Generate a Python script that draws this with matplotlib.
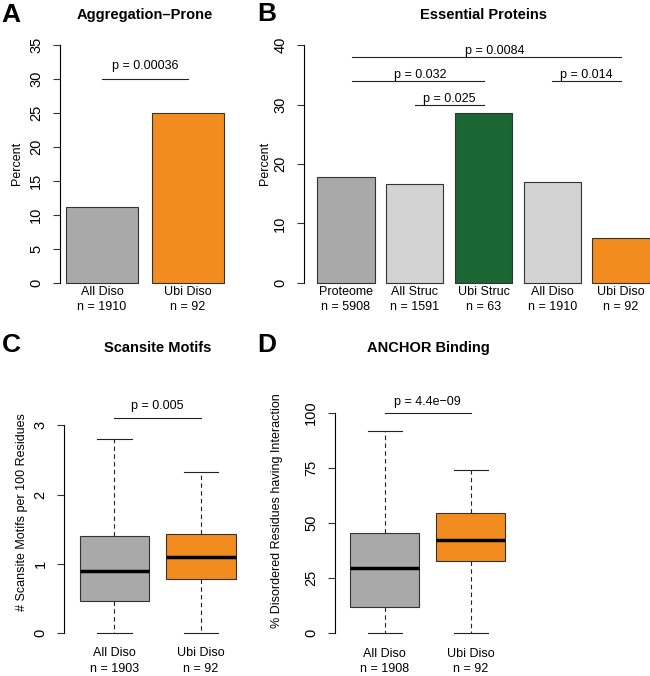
import matplotlib
matplotlib.use("Agg")
import matplotlib.pyplot as plt

plt.rcParams['font.family'] = ['Liberation Sans', 'DejaVu Sans']

W, H = 650, 676

# --- data ---
agg_labels = ['All Diso\nn = 1910', 'Ubi Diso\nn = 92']
agg_values = [11.2, 25.0]
agg_colors = ['#a9a9a9', '#f28c1f']

ess_labels = ['Proteome\nn = 5908', 'All Struc\nn = 1591', 'Ubi Struc\nn = 63',
              'All Diso\nn = 1910', 'Ubi Diso\nn = 92']
ess_values = [17.8, 16.6, 28.5, 17.0, 7.6]
ess_colors = ['#a9a9a9', '#d3d3d3', '#1a6634', '#d3d3d3', '#f28c1f']
# significance lines for B (R barplot coordinates)
ess_p_x0 = [0.8, 0.8, 1.9, 4.3]
ess_p_x1 = [5.5, 3.1, 3.1, 5.5]
ess_p_y = [38, 34, 30, 34]
ess_p_tx = [3.3, 2.0, 2.5, 4.9]
ess_p_text = ['p = 0.0084', 'p = 0.032', 'p = 0.025', 'p = 0.014']

box_labels_c = ['All Diso\nn = 1903', 'Ubi Diso\nn = 92']
scan_whislo = [0, 0]
scan_q1 = [0.46, 0.79]
scan_med = [0.90, 1.10]
scan_q3 = [1.41, 1.43]
scan_whishi = [2.80, 2.33]

box_labels_d = ['All Diso\nn = 1908', 'Ubi Diso\nn = 92']
anch_whislo = [0, 0]
anch_q1 = [12.1, 32.8]
anch_med = [29.5, 42.4]
anch_q3 = [45.5, 54.4]
anch_whishi = [91.8, 74.0]

box_colors = ['#a9a9a9', '#f28c1f']

fig = plt.figure(figsize=(W / 100, H / 100), dpi=100)


def fx(x):
    return x / W


def fy(y):
    return 1 - y / H


def add_ax(x0, y0, x1, y1):
    return fig.add_axes([fx(x0), fy(y1), (x1 - x0) / W, (y1 - y0) / H])


def style(ax, ticks, top, label_pad):
    for s in ['top', 'right', 'bottom']:
        ax.spines[s].set_visible(False)
    ax.spines['left'].set_bounds(0, top)
    ax.spines['left'].set_linewidth(0.8)
    ax.set_yticks(ticks)
    ax.set_yticklabels([str(t) for t in ticks], rotation=90, va='center')
    ax.tick_params(axis='y', length=5, width=0.8, pad=7, labelsize=10.5, color='#333333')
    ax.tick_params(axis='x', length=0, pad=label_pad, labelsize=9)
    for t in ax.get_xticklabels():
        t.set_linespacing(1.35)
    ax.patch.set_alpha(0)


def pline(ax, x0, x1, y, txt, tx, off):
    ax.plot([x0, x1], [y, y], color='#222222', lw=0.8, clip_on=False)
    ax.annotate(txt, (tx, y), xytext=(0, off), textcoords='offset points',
                ha='center', va='baseline', fontsize=9, annotation_clip=False)


def labels(title, tx, ty, letter, lx, ly, ylabel, yx, yy):
    fig.text(fx(tx), fy(ty), title, ha='center', va='center', fontsize=10.5, fontweight='bold')
    fig.text(fx(lx), fy(ly), letter, ha='left', va='center', fontsize=19, fontweight='bold')
    fig.text(fx(yx), fy(yy), ylabel, ha='center', va='center', rotation=90, fontsize=9)


# --- A: Aggregation-Prone ---
axA = add_ax(60, 35.5, 230, 292.5)
posA = [0.7, 1.9]
axA.bar(posA, agg_values, width=1.0, color=agg_colors, edgecolor='#333333', linewidth=0.8)
axA.set_xlim(0.112, 2.488)
axA.set_ylim(-1.4, 36.4)
axA.set_xticks(posA)
axA.set_xticklabels(agg_labels)
style(axA, [0, 5, 10, 15, 20, 25, 30, 35], 35, -5)
pline(axA, posA[0], posA[1], 30, 'p = 0.00036', (posA[0] + posA[1]) / 2, 7)
labels('Aggregation\u2013Prone', 145, 15, 'A', 1, 15, 'Percent', 17, 163)

# --- B: Essential Proteins ---
axB = add_ax(304, 35.5, 663, 292.5)
posB = [0.7 + 1.2 * i for i in range(len(ess_values))]
axB.bar(posB, ess_values, width=1.0, color=ess_colors, edgecolor='#333333', linewidth=0.8)
axB.set_xlim(-0.032, 6.232)
axB.set_ylim(-1.6, 41.6)
axB.set_xticks(posB)
axB.set_xticklabels(ess_labels)
style(axB, [0, 10, 20, 30, 40], 40, -5)
for x0, x1, y, tx, t in zip(ess_p_x0, ess_p_x1, ess_p_y, ess_p_tx, ess_p_text):
    pline(axB, x0, x1, y, t, tx, 2)
labels('Essential Proteins', 483, 15, 'B', 257, 14, 'Percent', 265, 163)


# --- boxplots ---
def boxes(ax, lo, q1, med, q3, hi):
    stats = []
    for i in range(len(med)):
        stats.append(dict(whislo=lo[i], q1=q1[i], med=med[i], q3=q3[i], whishi=hi[i], fliers=[]))
    bp = ax.bxp(stats, positions=[1, 2], widths=0.8, patch_artist=True, showfliers=False,
                capwidths=0.4,
                boxprops=dict(edgecolor='#333333', linewidth=0.8),
                whiskerprops=dict(color='#222222', linewidth=0.8, linestyle=(0, (4, 3))),
                capprops=dict(color='#222222', linewidth=0.8),
                medianprops=dict(color='black', linewidth=2.5, solid_capstyle='butt'))
    for patch, c in zip(bp['boxes'], box_colors):
        patch.set_facecolor(c)


axC = add_ax(64.3, 409.9, 251.2, 641.9)
boxes(axC, scan_whislo, scan_q1, scan_med, scan_q3, scan_whishi)
axC.set_xlim(0.42, 2.58)
axC.set_ylim(-0.124, 3.224)
axC.set_xticks([1, 2])
axC.set_xticklabels(box_labels_c)
style(axC, [0, 1, 2, 3], 3, 4)
pline(axC, 1, 2, 3.1, 'p = 0.005', 1.5, 6.5)
labels('Scansite Motifs', 158, 348, 'C', 2, 345, '# Scansite Motifs per 100 Residues', 22, 512)

axD = add_ax(334.8, 403.9, 520.8, 642.1)
boxes(axD, anch_whislo, anch_q1, anch_med, anch_q3, anch_whishi)
axD.set_xlim(0.42, 2.58)
axD.set_ylim(-4, 104)
axD.set_xticks([1, 2])
axD.set_xticklabels(box_labels_d)
style(axD, [0, 25, 50, 75, 100], 100, 4)
pline(axD, 1, 2, 100, 'p = 4.4e\u221209', 1.5, 5.5)
labels('ANCHOR Binding', 428, 348, 'D', 257, 345, '% Disordered Residues having Interaction', 277, 511)

fig.savefig('out.png', dpi=100)
